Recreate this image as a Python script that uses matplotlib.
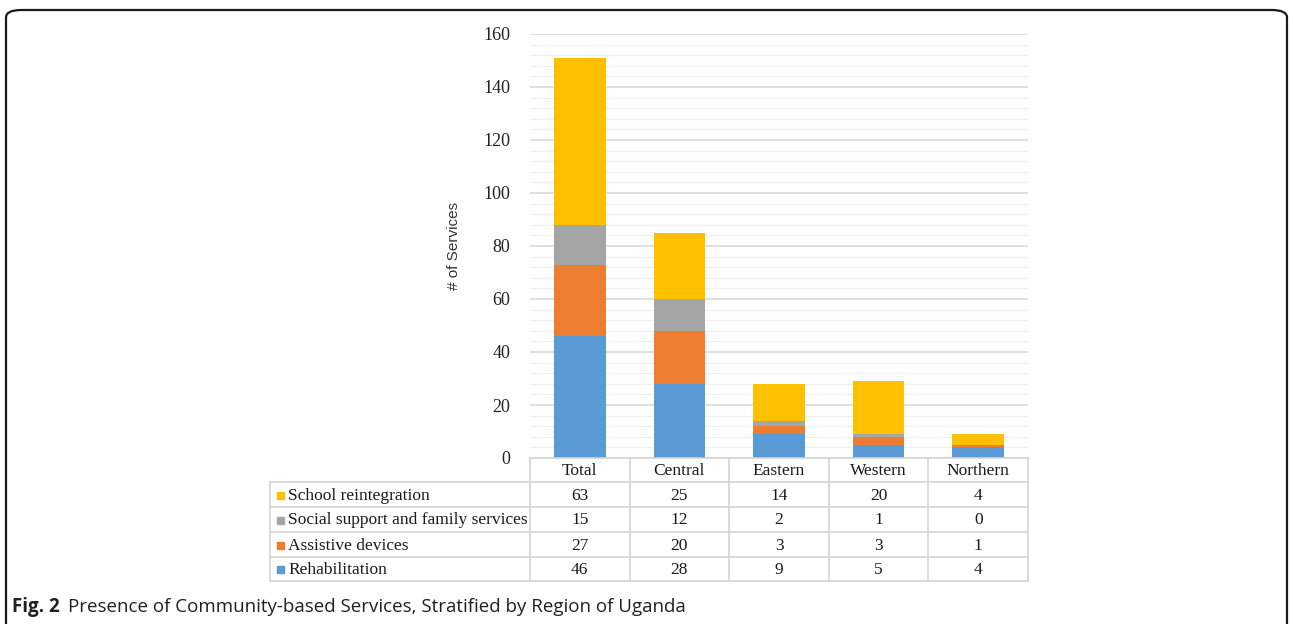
import matplotlib.pyplot as plt
from matplotlib.patches import FancyBboxPatch, Rectangle
from matplotlib.lines import Line2D
import numpy as np

regions = ["Total", "Central", "Eastern", "Western", "Northern"]
rehabilitation = [46, 28, 9, 5, 4]
assistive = [27, 20, 3, 3, 1]
social = [15, 12, 2, 1, 0]
school = [63, 25, 14, 20, 4]

series = [
    ("Rehabilitation", rehabilitation, "#5B9BD5"),
    ("Assistive devices", assistive, "#ED7D31"),
    ("Social support and family services", social, "#A5A5A5"),
    ("School reintegration", school, "#FFC000"),
]

W, H = 1290, 624
fig = plt.figure(figsize=(W / 100, H / 100), dpi=100)

# rounded frame, bottom edge runs off the picture
frame = FancyBboxPatch((6 / W, -30 / H), 1281 / W, 644 / H,
                       boxstyle="round,pad=0,rounding_size=0.012",
                       transform=fig.transFigure, fill=False,
                       edgecolor="#1a1a1a", linewidth=1.6, clip_on=False)
fig.patches.append(frame)

x0, x1 = 530, 1028
ytop, ybot = 34, 458
ax = fig.add_axes([x0 / W, 1 - ybot / H, (x1 - x0) / W, (ybot - ytop) / H])

x = np.arange(len(regions))
bottom = np.zeros(len(regions))
for name, vals, col in series:
    ax.bar(x, vals, width=0.52, bottom=bottom, color=col, zorder=3)
    bottom += np.array(vals)

ax.set_xlim(-0.5, len(regions) - 0.5)
ax.set_ylim(0, 160)
ax.set_yticks(np.arange(0, 161, 20))
ax.set_yticks(np.arange(0, 161, 4), minor=True)
ax.grid(axis="y", which="major", color="#dadada", linewidth=1.2, zorder=0)
ax.grid(axis="y", which="minor", color="#f0f0f0", linewidth=1.0, zorder=0)
ax.set_xticks([])
for s in ax.spines.values():
    s.set_visible(False)
ax.tick_params(axis="y", which="both", length=0, pad=14)
for t in ax.get_yticklabels():
    t.set_fontfamily("Liberation Serif")
    t.set_fontsize(13)
    t.set_color("#222222")
ax.set_ylabel("# of Services", fontfamily="Liberation Sans", fontsize=11,
              color="#333333", labelpad=16)

# data table below the chart, drawn in pixel coordinates
tab = fig.add_axes([0, 0, 1, 1], facecolor="none")
tab.set_xlim(0, W)
tab.set_ylim(H, 0)
tab.axis("off")
lc = "#d4d4d4"
lx = 270
col_w = (x1 - x0) / len(regions)
row_edges = [458, 482, 507, 532, 557, 581]

def hline(y, xa, xb):
    tab.add_line(Line2D([xa, xb], [y, y], color=lc, linewidth=1.2))

def vline(xv, ya, yb):
    tab.add_line(Line2D([xv, xv], [ya, yb], color=lc, linewidth=1.2))

hline(row_edges[0], x0, x1)
for y in row_edges[1:]:
    hline(y, lx, x1)
vline(lx, row_edges[1], row_edges[-1])
for i in range(len(regions) + 1):
    vline(x0 + i * col_w, row_edges[0], row_edges[-1])

tf = dict(fontfamily="Liberation Serif", fontsize=12.5, color="#1a1a1a",
          va="center")
for i, r in enumerate(regions):
    tab.text(x0 + (i + 0.5) * col_w, (row_edges[0] + row_edges[1]) / 2 + 1,
             r, ha="center", **tf)

for j, (name, vals, col) in enumerate(series[::-1]):
    yc = (row_edges[j + 1] + row_edges[j + 2]) / 2
    tab.add_patch(Rectangle((277, yc - 3), 7, 7, color=col))
    tab.text(288, yc + 1, name, ha="left", **tf)
    for i, v in enumerate(vals):
        tab.text(x0 + (i + 0.5) * col_w, yc + 1, str(v), ha="center", **tf)

# caption
fig.text(12 / W, 1 - 607 / H, "Fig. 2", fontfamily="Open Sans",
         fontweight="bold", fontsize=13.5, color="#231f20", va="center")
fig.text(68 / W, 1 - 607 / H,
         "Presence of Community-based Services, Stratified by Region of Uganda",
         fontfamily="Open Sans", fontsize=13.5, color="#231f20", va="center")

fig.savefig("out.png", dpi=100)
